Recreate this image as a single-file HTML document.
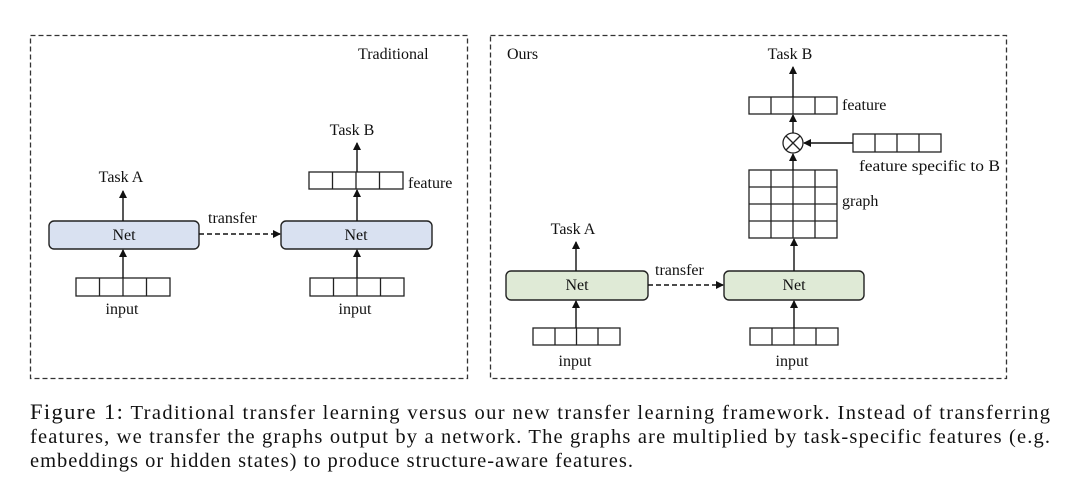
<!DOCTYPE html>
<html><head><meta charset="utf-8"><style>
html,body{margin:0;padding:0;background:#fff;width:1080px;height:491px;overflow:hidden}
svg text{font-family:"Liberation Serif",serif;fill:#111}
</style></head><body>
<svg width="1080" height="491" viewBox="0 0 1080 491" xmlns="http://www.w3.org/2000/svg">
<defs><marker id="a" markerWidth="8" markerHeight="8" refX="7" refY="4" orient="auto" markerUnits="userSpaceOnUse"><path d="M0,0 L8,4 L0,8 Z" fill="#111"/></marker></defs>
<g fill="none" stroke="#333" stroke-width="1.3" stroke-dasharray="5,3">
<rect x="30.5" y="35.5" width="437" height="343"/>
<rect x="490.5" y="35.5" width="516" height="343"/>
</g>
<g font-size="16">
<text x="358" y="59">Traditional</text>
<text x="507" y="59">Ours</text>
</g>
<g stroke="#222" stroke-width="1.4">
<rect x="49" y="221" width="150" height="28" rx="5" fill="#d9e1f1"/>
<rect x="281" y="221" width="151" height="28" rx="5" fill="#d9e1f1"/>
<rect x="506" y="271" width="142" height="29" rx="5" fill="#dfead6"/>
<rect x="724" y="271" width="140" height="29" rx="5" fill="#dfead6"/>
</g>
<g fill="#fff" stroke="#222" stroke-width="1.3">
<rect x="76" y="278" width="94" height="18"/><path d="M99.5,278V296M123,278V296M146.5,278V296"/>
<rect x="310" y="278" width="94" height="18"/><path d="M333.5,278V296M357,278V296M380.5,278V296"/>
<rect x="309" y="172" width="94" height="17"/><path d="M332.5,172V189M356,172V189M379.5,172V189"/>
<rect x="533" y="328" width="87" height="17"/><path d="M555,328V345M576.5,328V345M598,328V345"/>
<rect x="750" y="328" width="88" height="17"/><path d="M772,328V345M794,328V345M816,328V345"/>
<rect x="749" y="97" width="88" height="17"/><path d="M771,97V114M793,97V114M815,97V114"/>
<rect x="853" y="134" width="88" height="18"/><path d="M875,134V152M897,134V152M919,134V152"/>
<rect x="749" y="170" width="88" height="68"/><path d="M771,170V238M793,170V238M815,170V238M749,187H837M749,204H837M749,221H837"/>
<circle cx="793" cy="143" r="10"/><path d="M786,136L800,150M800,136L786,150"/>
</g>
<g stroke="#111" stroke-width="1.4" fill="none" marker-end="url(#a)">
<path d="M123,278V250"/><path d="M123,221V191"/>
<path d="M357,278V250"/><path d="M357,221V190"/><path d="M357,172V143"/>
<path d="M199,234H280" stroke-dasharray="5,3"/>
<path d="M576,328V301"/><path d="M576,271V242"/>
<path d="M794,328V301"/><path d="M794,271V239"/><path d="M793,170V154"/><path d="M793,133V115"/><path d="M793,97V67"/>
<path d="M853,143H804"/>
<path d="M648,285H723" stroke-dasharray="5,3"/>
</g>
<g font-size="16">
<text x="124" y="240" text-anchor="middle">Net</text>
<text x="356" y="240" text-anchor="middle">Net</text>
<text x="577" y="290" text-anchor="middle">Net</text>
<text x="794" y="290" text-anchor="middle">Net</text>
<text x="122" y="314" text-anchor="middle">input</text>
<text x="355" y="314" text-anchor="middle">input</text>
<text x="575" y="366" text-anchor="middle">input</text>
<text x="792" y="366" text-anchor="middle">input</text>
<text x="121" y="182" text-anchor="middle">Task A</text>
<text x="352" y="135" text-anchor="middle">Task B</text>
<text x="573" y="234" text-anchor="middle">Task A</text>
<text x="790" y="59" text-anchor="middle">Task B</text>
<text x="408" y="188">feature</text>
<text x="842" y="110">feature</text>
<text x="842" y="206">graph</text>
<text x="859" y="171" textLength="141" lengthAdjust="spacingAndGlyphs">feature specific to B</text>
<text x="208" y="223">transfer</text>
<text x="655" y="275">transfer</text>
</g>
<g font-size="20.5">
<text x="30" y="419" textLength="1020" lengthAdjust="spacing"><tspan font-size="22.5">Figure 1:</tspan> Traditional transfer learning versus our new transfer learning framework. Instead of transferring</text>
<text x="30" y="443" textLength="1020" lengthAdjust="spacing">features, we transfer the graphs output by a network. The graphs are multiplied by task-specific features (e.g.</text>
<text x="30" y="467" textLength="603" lengthAdjust="spacing">embeddings or hidden states) to produce structure-aware features.</text>
</g>
</svg>
</body></html>
